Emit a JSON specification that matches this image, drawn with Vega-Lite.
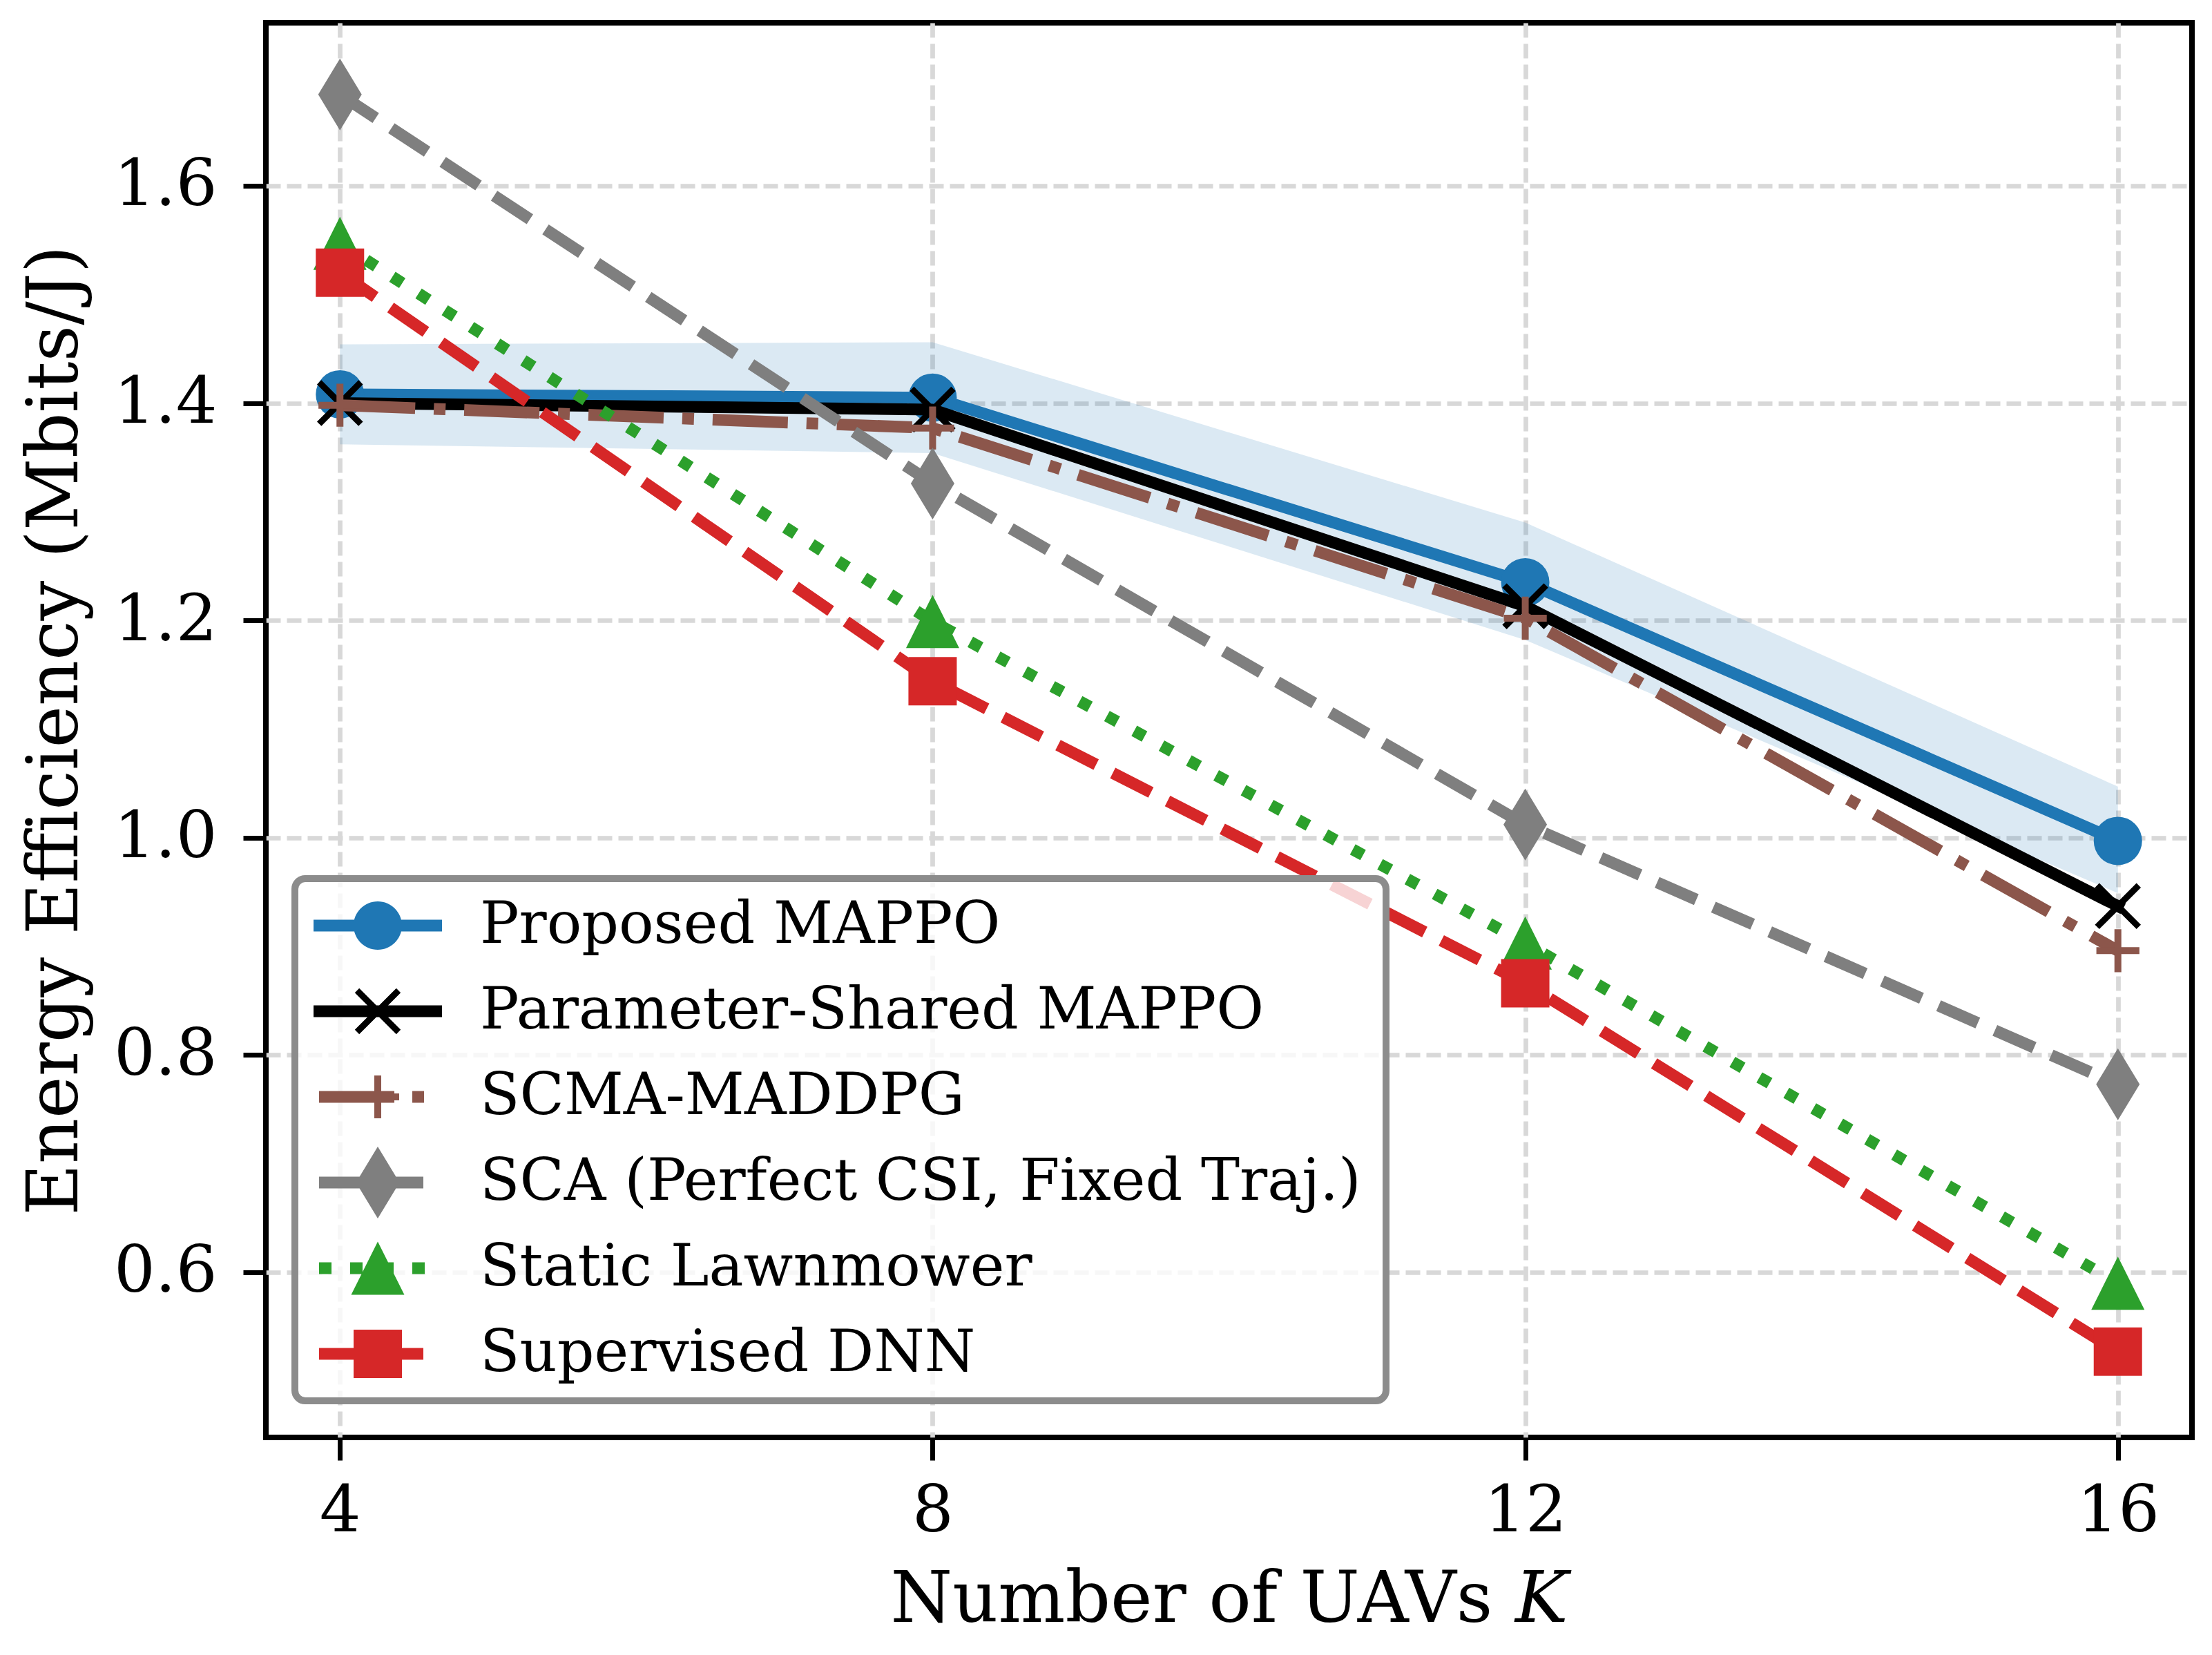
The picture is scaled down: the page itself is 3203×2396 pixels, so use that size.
{
  "$schema": "https://vega.github.io/schema/vega-lite/v6.json",
  "width": 2789,
  "height": 2048,
  "autosize": {"type": "none"},
  "padding": {"left": 385, "top": 33, "right": 29, "bottom": 315},
  "background": "#ffffff",
  "datasets": {
    "ee": [
      {"K": 4, "series": "Proposed MAPPO", "ee": 1.408},
      {"K": 8, "series": "Proposed MAPPO", "ee": 1.405},
      {"K": 12, "series": "Proposed MAPPO", "ee": 1.235},
      {"K": 16, "series": "Proposed MAPPO", "ee": 0.997},
      {"K": 4, "series": "Parameter-Shared MAPPO", "ee": 1.400},
      {"K": 8, "series": "Parameter-Shared MAPPO", "ee": 1.394},
      {"K": 12, "series": "Parameter-Shared MAPPO", "ee": 1.213},
      {"K": 16, "series": "Parameter-Shared MAPPO", "ee": 0.937},
      {"K": 4, "series": "SCMA-MADDPG", "ee": 1.398},
      {"K": 8, "series": "SCMA-MADDPG", "ee": 1.377},
      {"K": 12, "series": "SCMA-MADDPG", "ee": 1.202},
      {"K": 16, "series": "SCMA-MADDPG", "ee": 0.896},
      {"K": 4, "series": "SCA (Perfect CSI, Fixed Traj.)", "ee": 1.684},
      {"K": 8, "series": "SCA (Perfect CSI, Fixed Traj.)", "ee": 1.326},
      {"K": 12, "series": "SCA (Perfect CSI, Fixed Traj.)", "ee": 1.012},
      {"K": 16, "series": "SCA (Perfect CSI, Fixed Traj.)", "ee": 0.773},
      {"K": 4, "series": "Static Lawnmower", "ee": 1.547},
      {"K": 8, "series": "Static Lawnmower", "ee": 1.199},
      {"K": 12, "series": "Static Lawnmower", "ee": 0.903},
      {"K": 16, "series": "Static Lawnmower", "ee": 0.590},
      {"K": 4, "series": "Supervised DNN", "ee": 1.520},
      {"K": 8, "series": "Supervised DNN", "ee": 1.144},
      {"K": 12, "series": "Supervised DNN", "ee": 0.866},
      {"K": 16, "series": "Supervised DNN", "ee": 0.527}
    ],
    "band": [
      {"K": 4, "lo": 1.362, "hi": 1.454},
      {"K": 8, "lo": 1.354, "hi": 1.456},
      {"K": 12, "lo": 1.182, "hi": 1.290},
      {"K": 16, "lo": 0.949, "hi": 1.047}
    ]
  },
  "data": {"name": "ee"},
  "encoding": {
    "x": {
      "field": "K",
      "type": "quantitative",
      "scale": {"domain": [3.5, 16.5], "nice": false, "zero": false},
      "axis": {
        "values": [4, 8, 12, 16],
        "title": "Number of UAVs 𝐾",
        "labelPadding": 28,
        "labelFlush": false,
        "titleX": 1394.5,
        "titleY": 266,
        "titleBaseline": "alphabetic",
        "titleAlign": "center",
        "grid": true
      }
    },
    "y": {
      "field": "ee",
      "type": "quantitative",
      "scale": {"domain": [0.448, 1.75], "nice": false, "zero": false},
      "axis": {
        "values": [0.6, 0.8, 1.0, 1.2, 1.4, 1.6],
        "format": ".1f",
        "title": "Energy Efficiency (Mbits/J)",
        "labelPadding": 38,
        "titleX": -274,
        "titleY": 1024,
        "titleAngle": -90,
        "titleBaseline": "alphabetic",
        "titleAlign": "center",
        "grid": true
      }
    }
  },
  "layer": [
    {
      "data": {"name": "band"},
      "mark": {"type": "area", "color": "#1f77b4", "opacity": 0.16},
      "encoding": {
        "y": {"field": "lo", "type": "quantitative", "title": "Energy Efficiency (Mbits/J)"},
        "y2": {"field": "hi", "title": "Energy Efficiency (Mbits/J)"}
      }
    },
    {
      "transform": [{"filter": {"field": "series", "equal": "Proposed MAPPO"}}],
      "mark": {"type": "line", "strokeWidth": 17, "strokeCap": "square", "strokeJoin": "round"},
      "encoding": {
        "color": {
          "field": "series",
          "type": "nominal",
          "scale": {
            "domain": ["Proposed MAPPO", "Parameter-Shared MAPPO", "SCMA-MADDPG", "SCA (Perfect CSI, Fixed Traj.)", "Static Lawnmower", "Supervised DNN"],
            "range": ["#1f77b4", "#000000", "#8c564b", "#7f7f7f", "#2ca02c", "#d62728"]
          },
          "legend": {
            "orient": "none",
            "legendX": 42,
            "legendY": 1239,
            "title": null,
            "padding": 6,
            "clipHeight": 124,
            "rowPadding": 0,
            "symbolSize": 4900,
            "symbolStrokeWidth": 0,
            "symbolOffset": 72,
            "labelOffset": 106,
            "labelFont": "DejaVu Serif",
            "labelFontSize": 84,
            "labelColor": "#000000",
            "labelLimit": 0,
            "fillColor": "rgba(255,255,255,0.8)",
            "strokeColor": "#8c8c8c",
            "cornerRadius": 15,
            "zindex": 1,
            "encode": {
              "legend": {"update": {"strokeWidth": {"value": 10}}},
              "entries": {"update": {"width": {"value": 1568}}},
              "symbols": {
                "update": {
                  "shape": {"signal": "['M-2.657,-0.243L2.657,-0.243L2.657,0.243L-2.657,0.243ZM-1,0A1,1,0,1,1,1,0A1,1,0,1,1,-1,0Z', 'M-2.657,-0.243L2.657,-0.243L2.657,0.243L-2.657,0.243ZM-0.766,-0.949L0.949,0.766L0.766,0.949L-0.949,-0.766ZM-0.766,0.949L-0.949,0.766L0.766,-0.949L0.949,-0.766Z', 'M-2.429,-0.243L0.686,-0.243L0.686,0.243L-2.429,0.243ZM1.429,-0.243L1.914,-0.243L1.914,0.243L1.429,0.243ZM-0.143,-0.886L0.143,-0.886L0.143,0.886L-0.143,0.886ZM-0.886,-0.143L0.886,-0.143L0.886,0.143L-0.886,0.143Z', 'M-2.429,-0.243L-0.657,-0.243L-0.657,0.243L-2.429,0.243ZM0.114,-0.243L1.886,-0.243L1.886,0.243L0.114,0.243ZM0,-1.486L0.9,0L0,1.486L-0.9,0Z', 'M-2.429,-0.243L-1.914,-0.243L-1.914,0.243L-2.429,0.243ZM-1.143,-0.243L-0.629,-0.243L-0.629,0.243L-1.143,0.243ZM0.143,-0.243L0.657,-0.243L0.657,0.243L0.143,0.243ZM1.429,-0.243L1.943,-0.243L1.943,0.243L1.429,0.243ZM0,-1.1L1.1,1.1L-1.1,1.1Z', 'M-2.429,-0.243L-0.657,-0.243L-0.657,0.243L-2.429,0.243ZM0.114,-0.243L1.886,-0.243L1.886,0.243L0.114,0.243ZM-1,-1L1,-1L1,1L-1,1Z'][datum.index]"},
                  "fill": {"signal": "['#1f77b4', '#000000', '#8c564b', '#7f7f7f', '#2ca02c', '#d62728'][datum.index]"},
                  "stroke": {"value": "transparent"},
                  "strokeWidth": {"value": 0},
                  "opacity": {"value": 1}
                }
              }
            }
          }
        }
      }
    },
    {
      "transform": [{"filter": {"field": "series", "equal": "Proposed MAPPO"}}],
      "mark": {"type": "point", "shape": "circle", "size": 4900, "filled": true, "color": "#1f77b4", "opacity": 1, "strokeWidth": 0}
    },
    {
      "transform": [{"filter": {"field": "series", "equal": "Parameter-Shared MAPPO"}}],
      "mark": {"type": "line", "strokeWidth": 17, "strokeCap": "square", "strokeJoin": "round"},
      "encoding": {
        "color": {
          "field": "series",
          "type": "nominal",
          "scale": {
            "domain": ["Proposed MAPPO", "Parameter-Shared MAPPO", "SCMA-MADDPG", "SCA (Perfect CSI, Fixed Traj.)", "Static Lawnmower", "Supervised DNN"],
            "range": ["#1f77b4", "#000000", "#8c564b", "#7f7f7f", "#2ca02c", "#d62728"]
          }
        }
      }
    },
    {
      "transform": [{"filter": {"field": "series", "equal": "Parameter-Shared MAPPO"}}],
      "mark": {"type": "point", "shape": "M-0.86,-0.86L0.86,0.86M-0.86,0.86L0.86,-0.86", "size": 4900, "filled": false, "color": "#000000", "opacity": 1, "strokeWidth": 9}
    },
    {
      "transform": [{"filter": {"field": "series", "equal": "SCMA-MADDPG"}}],
      "mark": {"type": "line", "strokeWidth": 17, "strokeCap": "butt", "strokeJoin": "round", "strokeDash": [109, 27, 17, 27]},
      "encoding": {
        "color": {
          "field": "series",
          "type": "nominal",
          "scale": {
            "domain": ["Proposed MAPPO", "Parameter-Shared MAPPO", "SCMA-MADDPG", "SCA (Perfect CSI, Fixed Traj.)", "Static Lawnmower", "Supervised DNN"],
            "range": ["#1f77b4", "#000000", "#8c564b", "#7f7f7f", "#2ca02c", "#d62728"]
          }
        }
      }
    },
    {
      "transform": [{"filter": {"field": "series", "equal": "SCMA-MADDPG"}}],
      "mark": {"type": "point", "shape": "M-0.89,0L0.89,0M0,-0.89L0,0.89", "size": 4900, "filled": false, "color": "#8c564b", "opacity": 1, "strokeWidth": 10}
    },
    {
      "transform": [{"filter": {"field": "series", "equal": "SCA (Perfect CSI, Fixed Traj.)"}}],
      "mark": {"type": "line", "strokeWidth": 17, "strokeCap": "butt", "strokeJoin": "round", "strokeDash": [62, 27]},
      "encoding": {
        "color": {
          "field": "series",
          "type": "nominal",
          "scale": {
            "domain": ["Proposed MAPPO", "Parameter-Shared MAPPO", "SCMA-MADDPG", "SCA (Perfect CSI, Fixed Traj.)", "Static Lawnmower", "Supervised DNN"],
            "range": ["#1f77b4", "#000000", "#8c564b", "#7f7f7f", "#2ca02c", "#d62728"]
          }
        }
      }
    },
    {
      "transform": [{"filter": {"field": "series", "equal": "SCA (Perfect CSI, Fixed Traj.)"}}],
      "mark": {"type": "point", "shape": "M0,-1.486L0.9,0L0,1.486L-0.9,0Z", "size": 4900, "filled": true, "color": "#7f7f7f", "opacity": 1, "strokeWidth": 0}
    },
    {
      "transform": [{"filter": {"field": "series", "equal": "Static Lawnmower"}}],
      "mark": {"type": "line", "strokeWidth": 17, "strokeCap": "butt", "strokeJoin": "round", "strokeDash": [17, 28]},
      "encoding": {
        "color": {
          "field": "series",
          "type": "nominal",
          "scale": {
            "domain": ["Proposed MAPPO", "Parameter-Shared MAPPO", "SCMA-MADDPG", "SCA (Perfect CSI, Fixed Traj.)", "Static Lawnmower", "Supervised DNN"],
            "range": ["#1f77b4", "#000000", "#8c564b", "#7f7f7f", "#2ca02c", "#d62728"]
          }
        }
      }
    },
    {
      "transform": [{"filter": {"field": "series", "equal": "Static Lawnmower"}}],
      "mark": {"type": "point", "shape": "M0,-1.1L1.1,1.1L-1.1,1.1Z", "size": 4900, "filled": true, "color": "#2ca02c", "opacity": 1, "strokeWidth": 0}
    },
    {
      "transform": [{"filter": {"field": "series", "equal": "Supervised DNN"}}],
      "mark": {"type": "line", "strokeWidth": 17, "strokeCap": "butt", "strokeJoin": "round", "strokeDash": [62, 27]},
      "encoding": {
        "color": {
          "field": "series",
          "type": "nominal",
          "scale": {
            "domain": ["Proposed MAPPO", "Parameter-Shared MAPPO", "SCMA-MADDPG", "SCA (Perfect CSI, Fixed Traj.)", "Static Lawnmower", "Supervised DNN"],
            "range": ["#1f77b4", "#000000", "#8c564b", "#7f7f7f", "#2ca02c", "#d62728"]
          }
        }
      }
    },
    {
      "transform": [{"filter": {"field": "series", "equal": "Supervised DNN"}}],
      "mark": {"type": "point", "shape": "square", "size": 4900, "filled": true, "color": "#d62728", "opacity": 1, "strokeWidth": 0}
    }
  ],
  "config": {
    "view": {"stroke": "#000000", "strokeWidth": 8},
    "font": "DejaVu Serif",
    "axis": {
      "labelFont": "DejaVu Serif",
      "labelFontSize": 94,
      "labelColor": "#000000",
      "labelOverlap": false,
      "titleFont": "DejaVu Serif",
      "titleFontSize": 102.5,
      "titleFontWeight": "normal",
      "titleColor": "#000000",
      "domain": false,
      "tickColor": "#000000",
      "tickSize": 33,
      "tickWidth": 7,
      "gridColor": "#d8d8d8",
      "gridWidth": 6.7,
      "gridDash": [21, 9]
    }
  }
}
